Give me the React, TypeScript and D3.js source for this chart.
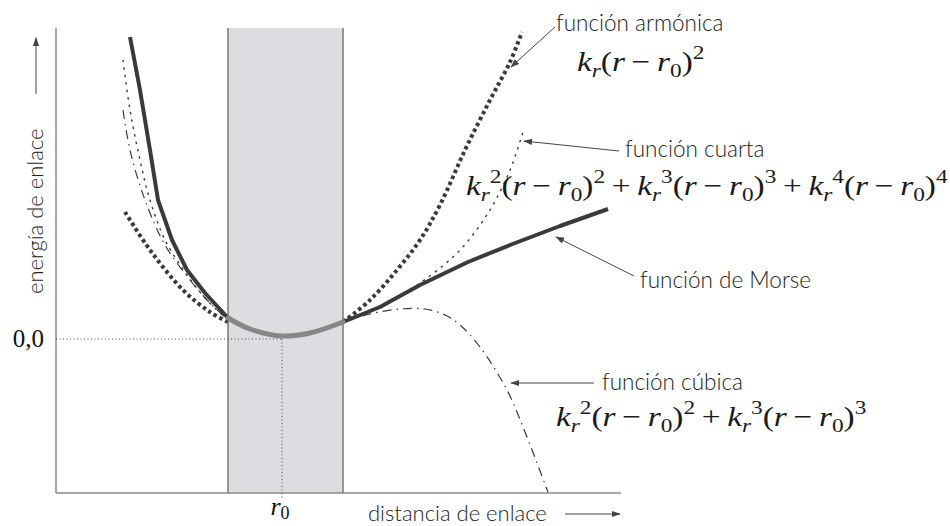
import React from "react";
import * as d3 from "d3";

// Interatomic distance r (arbitrary units) and bond energy E (arbitrary units)
const R_DOMAIN = [0, 5.65];
const E_DOMAIN = [-1.54, 3.11];
const R0 = 2.26;
const BAND = [1.72, 2.87];

// Region close to equilibrium where all the potentials coincide
const coreR = [1.72, 1.94, 2.26, 2.54, 2.87];
const coreE = [0.21, 0.1, 0.03, 0.06, 0.17];

// Morse potential
const morseLeftR = [0.74, 0.84, 0.94, 1.02, 1.16, 1.31, 1.49, 1.72];
const morseLeftE = [3.02, 2.49, 1.89, 1.39, 0.99, 0.69, 0.46, 0.21];
const morseRightR = [2.87, 3.24, 3.64, 4.12, 4.54, 5.04, 5.52];
const morseRightE = [0.17, 0.32, 0.54, 0.77, 0.94, 1.13, 1.3];

// Harmonic potential
const harmLeftR = [0.69, 0.94, 1.27, 1.54, 1.72];
const harmLeftE = [1.27, 0.89, 0.49, 0.27, 0.17];
const harmRightR = [2.87, 3.14, 3.41, 3.64, 3.84, 4.09, 4.34, 4.54, 4.66];
const harmRightE = [0.17, 0.39, 0.69, 0.99, 1.34, 1.89, 2.39, 2.77, 3.07];

// Quartic expansion
const quartLeftR = [0.67, 0.74, 0.84, 0.94, 1.09, 1.29, 1.49, 1.72];
const quartLeftE = [2.79, 2.29, 1.79, 1.39, 0.99, 0.67, 0.41, 0.19];
const quartRightR = [2.87, 3.24, 3.64, 4.04, 4.34, 4.54, 4.67];
const quartRightE = [0.17, 0.33, 0.56, 0.89, 1.29, 1.69, 2.07];

// Cubic expansion
const cubLeftR = [0.67, 0.74, 0.89, 1.09, 1.34, 1.54, 1.72];
const cubLeftE = [2.29, 1.89, 1.39, 0.94, 0.59, 0.36, 0.19];
const cubRightR = [2.87, 3.14, 3.44, 3.69, 3.89, 4.04, 4.24, 4.51, 4.67, 4.92];
const cubRightE = [0.17, 0.25, 0.3, 0.3, 0.24, 0.14, -0.08, -0.51, -0.88, -1.53];

// Annotation labels
const labelNames = ["función armónica", "función cuarta", "función de Morse", "función cúbica"];
const axisLabels = ["energía de enlace", "distancia de enlace"];
const zeroLabel = "0,0";

const W = 950;
const H = 526;

const x = d3.scaleLinear().domain(R_DOMAIN).range([56, 621]);
const y = d3.scaleLinear().domain(E_DOMAIN).range([493, 28]);

const zip = (rs: number[], es: number[]) => rs.map((r, i) => [r, es[i]] as [number, number]);

const smooth = d3
  .line<[number, number]>()
  .x((d) => x(d[0]))
  .y((d) => y(d[1]))
  .curve(d3.curveCatmullRom.alpha(0.5));

const straight = d3
  .line<[number, number]>()
  .x((d) => x(d[0]))
  .y((d) => y(d[1]));

type Pos = "b" | "sub" | "sup";
type Tok = [string, "i" | "n", Pos];

// kr^m (r - r0)^n
function term(power: string, kPower: string | null): Tok[] {
  const t: Tok[] = [
    ["k", "i", "b"],
    ["r", "i", "sub"],
  ];
  if (kPower) t.push([kPower, "n", "sup"]);
  t.push(
    ["(", "n", "b"],
    ["r", "i", "b"],
    ["\u2009\u2212\u2009", "n", "b"],
    ["r", "i", "b"],
    ["0", "n", "sub"],
    [")", "n", "b"],
    [power, "n", "sup"]
  );
  return t;
}
const plus: Tok[] = [["\u2009+\u2009", "n", "b"]];

const harmonicFormula = term("2", null);
const cubicFormula = [...term("2", "2"), ...plus, ...term("3", "3")];
const quarticFormula = [...term("2", "2"), ...plus, ...term("3", "3"), ...plus, ...term("4", "4")];

function Formula({ px, py, size, toks }: { px: number; py: number; size: number; toks: Tok[] }) {
  let cur = 0;
  const off = (p: Pos) => (p === "sub" ? size * 0.22 : p === "sup" ? -size * 0.42 : 0);
  return (
    <g transform={`translate(${px},${py}) scale(1.19,1)`}>
      <text
        x={0}
        y={0}
        fontSize={size}
        fontFamily="'Liberation Serif', 'DejaVu Serif', serif"
        fill="#1a1a1a"
        style={{ whiteSpace: "pre" }}
      >
        {toks.map(([t, st, p], i) => {
          const o = off(p);
          const dy = o - cur;
          cur = o;
          return (
            <tspan
              key={i}
              dy={dy}
              fontStyle={st === "i" ? "italic" : "normal"}
              fontSize={p === "b" ? size : size * 0.7}
            >
              {t}
            </tspan>
          );
        })}
      </text>
    </g>
  );
}

const curveColor = "#3a3a3a";
const labelFont = "Lato, 'Open Sans', sans-serif";
const labelSize = 22.5;
const labelInk = "#222";

export default function App() {
  const arrow = (x1: number, y1: number, x2: number, y2: number, key: string) => (
    <line key={key} x1={x1} y1={y1} x2={x2} y2={y2} stroke="#444" strokeWidth={1} markerEnd="url(#ah)" />
  );

  return (
    <svg width={W} height={H} style={{ position: "absolute", left: 0, top: 0, background: "#fff" }}>
      <defs>
        <marker id="ah" viewBox="0 0 10 10" refX="9" refY="5" markerWidth="9" markerHeight="9" orient="auto">
          <path d="M0,1.5 L10,5 L0,8.5 z" fill="#444" />
        </marker>
      </defs>

      {/* equilibrium band */}
      <rect
        x={x(BAND[0])}
        y={y(E_DOMAIN[1])}
        width={x(BAND[1]) - x(BAND[0])}
        height={y(E_DOMAIN[0]) - y(E_DOMAIN[1])}
        fill="#dcdde0"
      />
      <line x1={x(BAND[0])} x2={x(BAND[0])} y1={y(E_DOMAIN[1])} y2={y(E_DOMAIN[0])} stroke="#666" strokeWidth={1.3} />
      <line x1={x(BAND[1])} x2={x(BAND[1])} y1={y(E_DOMAIN[1])} y2={y(E_DOMAIN[0])} stroke="#666" strokeWidth={1.3} />

      {/* axes */}
      <line x1={x(0)} x2={x(0)} y1={y(E_DOMAIN[1])} y2={y(E_DOMAIN[0])} stroke="#8a8a8a" strokeWidth={1.5} />
      <line x1={x(0)} x2={x(R_DOMAIN[1])} y1={y(E_DOMAIN[0])} y2={y(E_DOMAIN[0])} stroke="#8a8a8a" strokeWidth={1.5} />

      {/* zero energy and r0 guides */}
      <line x1={x(0)} x2={x(R0)} y1={y(0)} y2={y(0)} stroke="#444" strokeWidth={1} strokeDasharray="1 2.5" />
      <line x1={x(R0)} x2={x(R0)} y1={y(0)} y2={y(E_DOMAIN[0]) + 5} stroke="#444" strokeWidth={1} strokeDasharray="1 2.5" />

      {/* cubic */}
      {[zip(cubLeftR, cubLeftE), zip(cubRightR, cubRightE)].map((d, i) => (
        <path key={"c" + i} d={smooth(d) ?? ""} fill="none" stroke={curveColor} strokeWidth={1.2} strokeDasharray="9 5 1.5 5" />
      ))}
      {/* quartic */}
      {[zip(quartLeftR, quartLeftE), zip(quartRightR, quartRightE)].map((d, i) => (
        <path key={"q" + i} d={smooth(d) ?? ""} fill="none" stroke={curveColor} strokeWidth={1.4} strokeDasharray="2.5 5" />
      ))}
      {/* harmonic */}
      {[zip(harmLeftR, harmLeftE), zip(harmRightR, harmRightE)].map((d, i) => (
        <path key={"h" + i} d={smooth(d) ?? ""} fill="none" stroke={curveColor} strokeWidth={4} strokeDasharray="3.5 3" />
      ))}
      {/* Morse */}
      {[zip(morseLeftR, morseLeftE), zip(morseRightR, morseRightE)].map((d, i) => (
        <path key={"m" + i} d={straight(d) ?? ""} fill="none" stroke={curveColor} strokeWidth={4} strokeLinejoin="round" />
      ))}
      {/* shared region */}
      <path d={smooth(zip(coreR, coreE)) ?? ""} fill="none" stroke="#878787" strokeWidth={5} strokeLinecap="round" />

      {/* axis labels */}
      <text x={44} y={347} textAnchor="end" fontSize={25} fontFamily="'Liberation Serif', serif" fill="#111">
        {zeroLabel}
      </text>
      <text x={x(R0) - 2} y={515} textAnchor="middle" fontSize={26} fontFamily="'Liberation Serif', serif" fill="#111">
        <tspan fontStyle="italic">r</tspan>
        <tspan fontSize={18} dy={4}>0</tspan>
      </text>
      <text transform="translate(43,294) rotate(-90)" fontSize={22} fontWeight={300} fontFamily={labelFont} fill={labelInk}>
        {axisLabels[0]}
      </text>
      {arrow(36, 94, 36, 38, "ya")}
      <text x={368} y={521} fontSize={22} fontWeight={300} fontFamily={labelFont} fill={labelInk}>
        {axisLabels[1]}
      </text>
      {arrow(565, 514, 620, 514, "xa")}

      {/* annotations */}
      <text x={556} y={31} fontSize={labelSize} fontWeight={300} fontFamily={labelFont} fill={labelInk}>{labelNames[0]}</text>
      {arrow(555, 27, x(4.55), y(2.72), "a1")}
      <Formula px={577} py={71} size={28} toks={harmonicFormula} />

      <text x={625} y={157} fontSize={labelSize} fontWeight={300} fontFamily={labelFont} fill={labelInk}>{labelNames[1]}</text>
      {arrow(619, 151, x(4.68), y(1.98), "a2")}
      <Formula px={466} py={195} size={28} toks={quarticFormula} />

      <text x={640} y={288} fontSize={labelSize} fontWeight={300} fontFamily={labelFont} fill={labelInk}>{labelNames[2]}</text>
      {arrow(634, 276, x(5.0), y(1.02), "a3")}

      <text x={602} y={390} fontSize={labelSize} fontWeight={300} fontFamily={labelFont} fill={labelInk}>{labelNames[3]}</text>
      {arrow(594, 383, x(4.55), y(-0.44), "a4")}
      <Formula px={556} py={426} size={28} toks={cubicFormula} />
    </svg>
  );
}
